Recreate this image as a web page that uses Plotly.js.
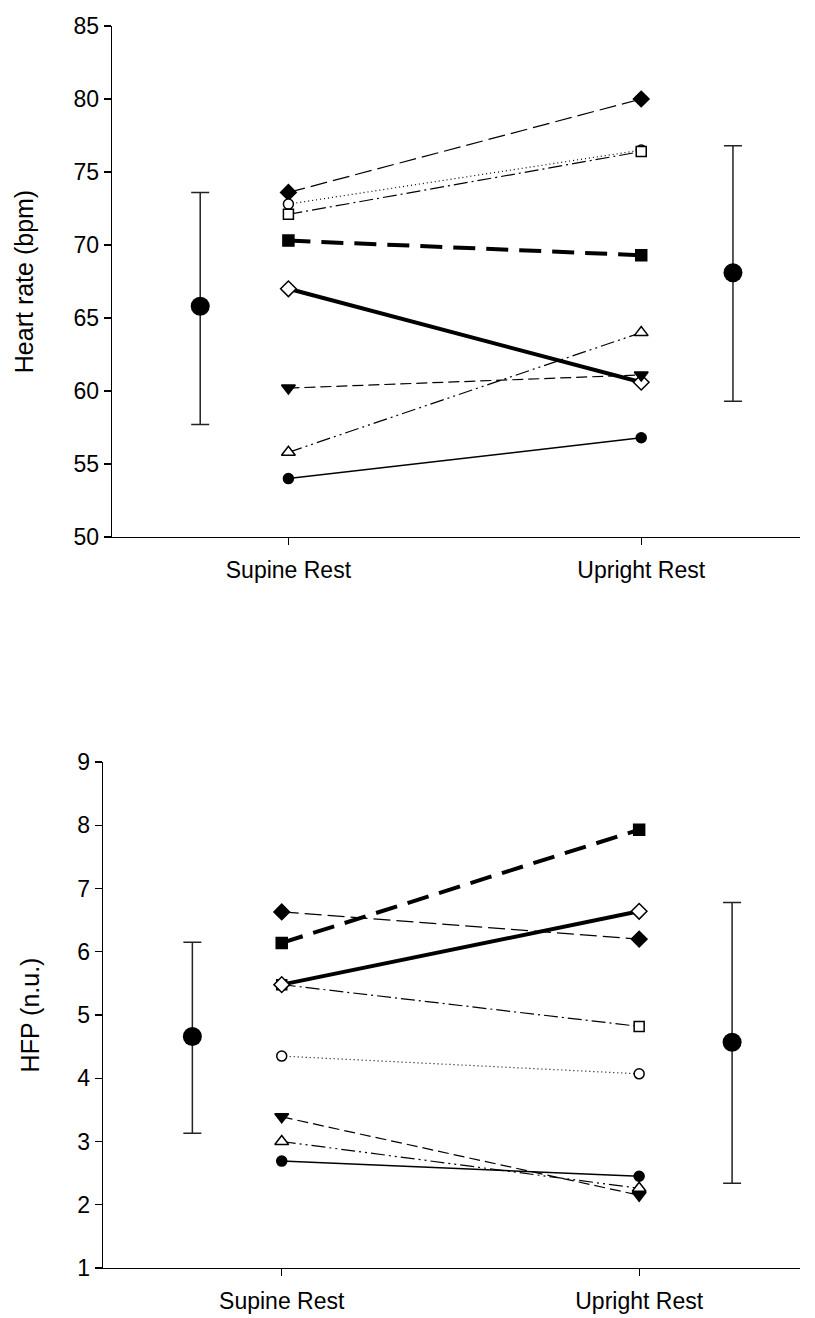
<!DOCTYPE html>
<html>
<head>
<meta charset="utf-8">
<script src="https://cdn.plot.ly/plotly-3.0.1.min.js"></script>
<style>
  html, body { margin: 0; padding: 0; background: #fff; }
  #chart { width: 815px; height: 1318px; }
</style>
</head>
<body>
<div id="chart"></div>
<script>
// ---------- data ----------
const categories = ['Supine Rest', 'Upright Rest'];

// Heart rate (bpm), individual subjects
const hrFilledDiamond = [73.6, 80.0];
const hrOpenCircle    = [72.8, 76.5];
const hrOpenSquare    = [72.1, 76.4];
const hrFilledSquare  = [70.3, 69.3];
const hrOpenDiamond   = [67.0, 60.6];
const hrFilledDownTri = [60.2, 61.1];
const hrOpenTriangle  = [55.8, 64.0];
const hrFilledCircle  = [54.0, 56.8];
// Heart rate group mean and error bar limits
const hrMean    = [65.8, 68.1];
const hrErrHigh = [73.6, 76.8];
const hrErrLow  = [57.7, 59.3];

// HFP (n.u.), individual subjects
const hfpFilledDiamond = [6.63, 6.20];
const hfpOpenCircle    = [4.35, 4.07];
const hfpOpenSquare    = [5.48, 4.82];
const hfpFilledSquare  = [6.14, 7.93];
const hfpOpenDiamond   = [5.48, 6.64];
const hfpFilledDownTri = [3.39, 2.15];
const hfpOpenTriangle  = [3.00, 2.26];
const hfpFilledCircle  = [2.69, 2.45];
// HFP group mean and error bar limits
const hfpMean    = [4.66, 4.57];
const hfpErrHigh = [6.15, 6.78];
const hfpErrLow  = [3.13, 2.34];

const yTicksHR  = [50, 55, 60, 65, 70, 75, 80, 85];
const yTicksHFP = [1, 2, 3, 4, 5, 6, 7, 8, 9];

// ---------- layout helpers (positions / styles) ----------
const catPos  = [1, 2];
const meanPos = [0.75, 2.26];

const styles = [
  {key: 'FilledDiamond', symbol: 'diamond',       fill: '#000', size: 12, width: 1.2, dash: '17px,6px'},
  {key: 'OpenCircle',    symbol: 'circle',        fill: '#fff', size: 10, width: 1.2, dash: '1px,3px'},
  {key: 'OpenSquare',    symbol: 'square',        fill: '#fff', size: 10, width: 1.2, dash: '14px,4px,2px,4px'},
  {key: 'FilledSquare',  symbol: 'square',        fill: '#000', size: 11, width: 4,   dash: '22px,11px'},
  {key: 'OpenDiamond',   symbol: 'diamond',       fill: '#fff', size: 12, width: 4,   dash: 'solid'},
  {key: 'FilledDownTri', symbol: 'triangle-down', fill: '#000', size: 12, width: 1.2, dash: '11px,5px'},
  {key: 'OpenTriangle',  symbol: 'triangle-up',   fill: '#fff', size: 12, width: 1.2, dash: '14px,4px,2px,4px,2px,4px'},
  {key: 'FilledCircle',  symbol: 'circle',        fill: '#000', size: 10, width: 1.5, dash: 'solid'}
];

const hrSeries = {
  FilledDiamond: hrFilledDiamond, OpenCircle: hrOpenCircle, OpenSquare: hrOpenSquare,
  FilledSquare: hrFilledSquare, OpenDiamond: hrOpenDiamond, FilledDownTri: hrFilledDownTri,
  OpenTriangle: hrOpenTriangle, FilledCircle: hrFilledCircle
};
const hfpSeries = {
  FilledDiamond: hfpFilledDiamond, OpenCircle: hfpOpenCircle, OpenSquare: hfpOpenSquare,
  FilledSquare: hfpFilledSquare, OpenDiamond: hfpOpenDiamond, FilledDownTri: hfpFilledDownTri,
  OpenTriangle: hfpOpenTriangle, FilledCircle: hfpFilledCircle
};

function subjectTraces(series, xa, ya) {
  return styles.map(s => ({
    type: 'scatter', mode: 'lines+markers',
    x: catPos, y: series[s.key], xaxis: xa, yaxis: ya,
    line: {color: '#000', width: s.width, dash: s.dash},
    marker: {symbol: s.symbol, size: s.size, color: s.fill, line: {color: '#000', width: 1.5}},
    showlegend: false, hoverinfo: 'y'
  }));
}

function meanTrace(mean, hi, lo, xa, ya) {
  return {
    type: 'scatter', mode: 'markers',
    x: meanPos, y: mean, xaxis: xa, yaxis: ya,
    marker: {symbol: 'circle', size: 19, color: '#000'},
    error_y: {
      type: 'data', symmetric: false,
      array: hi.map((v, i) => v - mean[i]),
      arrayminus: mean.map((v, i) => v - lo[i]),
      color: '#222', thickness: 1.5, width: 9
    },
    showlegend: false, hoverinfo: 'y'
  };
}

const traces = [
  meanTrace(hrMean, hrErrHigh, hrErrLow, 'x', 'y'),
  ...subjectTraces(hrSeries, 'x', 'y'),
  meanTrace(hfpMean, hfpErrHigh, hfpErrLow, 'x2', 'y2'),
  ...subjectTraces(hfpSeries, 'x2', 'y2')
];

const font = {family: 'Liberation Sans, Arial, sans-serif', size: 23, color: '#000'};
const titleFont = {family: 'Liberation Sans, Arial, sans-serif', size: 25, color: '#000'};

const xBase = {
  range: [0.5, 2.45], tickvals: catPos, ticktext: categories,
  showline: true, linecolor: '#000', linewidth: 1.3,
  ticks: 'outside', ticklen: 7, tickwidth: 1.2, tickcolor: '#000',
  ticklabelstandoff: 5,
  showgrid: false, zeroline: false, tickfont: font, fixedrange: true
};
const yBase = {
  showline: true, linecolor: '#000', linewidth: 1.3,
  ticks: 'outside', ticklen: 7, tickwidth: 1.2, tickcolor: '#000',
  showgrid: false, zeroline: false, tickfont: font, fixedrange: true
};

const W = 815, H = 1318;
const layout = {
  width: W, height: H,
  margin: {l: 0, r: 0, t: 0, b: 0},
  paper_bgcolor: '#fff', plot_bgcolor: 'rgba(0,0,0,0)',
  font: font,
  showlegend: false,
  xaxis:  Object.assign({}, xBase, {domain: [112 / W, 800 / W], anchor: 'y'}),
  yaxis:  Object.assign({}, yBase, {
    domain: [1 - 537 / H, 1 - 26 / H], anchor: 'x',
    range: [50, 85], tickvals: yTicksHR,
    title: {text: 'Heart rate (bpm)', font: titleFont, standoff: 32}
  }),
  xaxis2: Object.assign({}, xBase, {domain: [103 / W, 800 / W], anchor: 'y2'}),
  yaxis2: Object.assign({}, yBase, {
    domain: [1 - 1268 / H, 1 - 762 / H], anchor: 'x2',
    range: [1, 9], tickvals: yTicksHFP,
    title: {text: 'HFP (n.u.)', font: titleFont, standoff: 30}
  })
};

Plotly.newPlot('chart', traces, layout, {displayModeBar: false, staticPlot: true});
</script>
</body>
</html>
